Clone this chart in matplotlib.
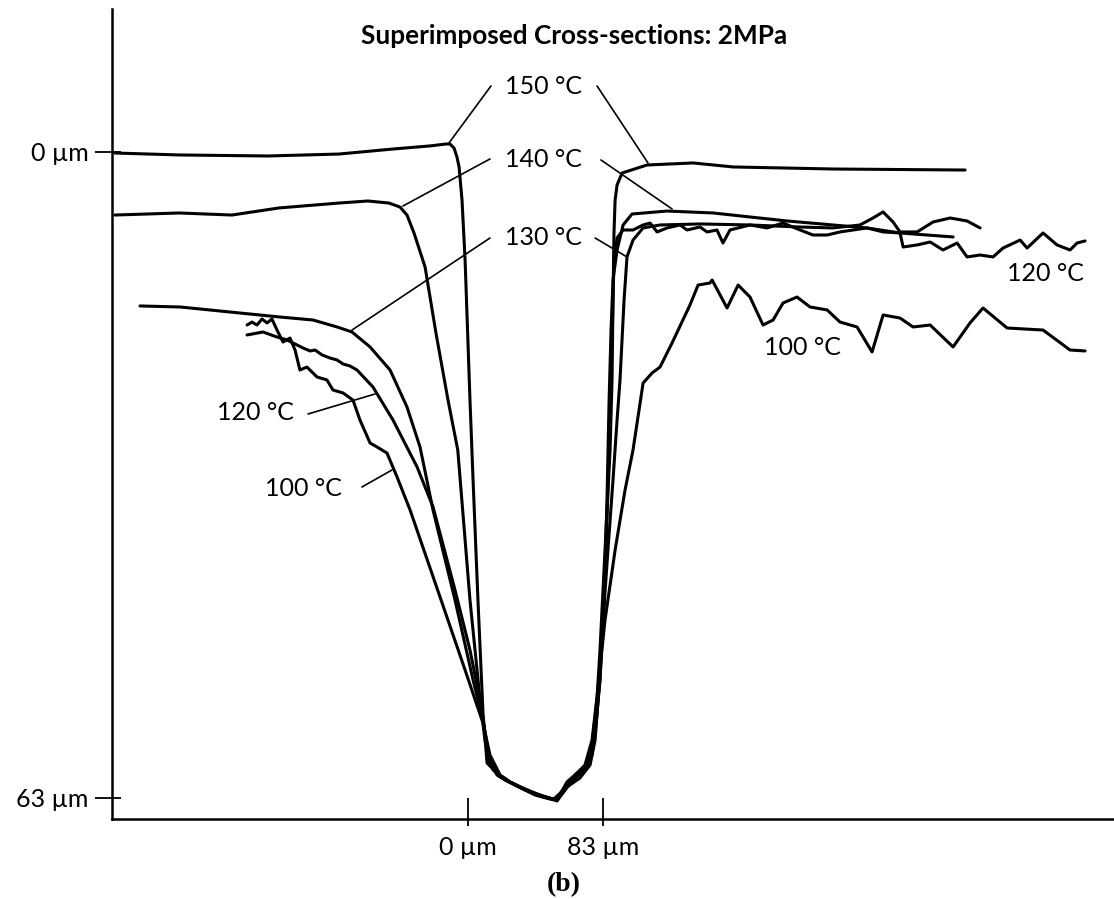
import matplotlib
matplotlib.use('Agg')
import matplotlib.pyplot as plt
from matplotlib.ticker import FixedLocator

plt.rcParams['font.family'] = ['Lato', 'DejaVu Sans']

# ---- data: lateral position (µm) and depth below the 150 °C surface (µm) ----
x150 = [-217.0, -177.6, -122.9, -79.3, -46.1, -23.4, -13.5, -11.1, -8.6, -6.8, -5.5, -3.7,
        -1.8, 1.2, 3.1, 6.1, 9.2, 11.7, 17.8, 25.8, 36.3, 46.1, 54.7, 60.8, 67.0, 73.1,
        76.2, 79.3, 81.1, 84.2, 87.3, 88.5, 89.1, 89.7, 90.4, 91.6, 94.7, 110.0, 138.3,
        162.9, 224.3, 305.5]
y150 = [0.1, 0.29, 0.39, 0.2, -0.29, -0.59, -0.78, -0.78, -0.39, 0.49, 1.46, 4.68,
        10.54, 24.2, 32.0, 43.71, 54.73, 59.61, 60.59, 61.46, 62.24, 62.93, 63.2, 61.46,
        60.59, 60.0, 58.05, 53.17, 48.6, 38.83, 29.07, 22.24, 14.44, 7.9, 4.68, 3.22,
        2.05, 1.27, 1.07, 1.46, 1.66, 1.76]

x140 = [-217.0, -177.6, -145.1, -116.2, -79.3, -61.5, -48.6, -41.8, -37.5, -33.2,
        -26.4, -19.7, -12.3, -6.3, 1.2, 7.4, 10.4, 13.5, 19.7, 32.0,
        47.3, 53.5, 60.8, 68.8, 75.0, 78.1, 81.1, 83.6, 85.4, 86.7,
        87.9, 89.1, 91.6, 95.3, 100.8, 122.3, 150.6, 173.3, 196.1, 224.3,
        245.2, 265.5, 298.1]
y140 = [6.15, 5.95, 6.15, 5.46, 4.98, 4.78, 4.98, 5.37, 6.15, 7.9,
        11.22, 17.66, 24.2, 29.07, 43.71, 53.46, 57.37, 59.8, 60.98, 61.95,
        62.93, 63.2, 61.76, 60.49, 59.32, 56.88, 51.51, 43.71, 33.95, 24.2,
        17.37, 12.49, 9.56, 7.12, 6.05, 5.76, 5.95, 6.34, 6.73, 7.12,
        7.41, 7.9, 8.29]

x130 = [-201.6, -177.0, -146.3, -115.6, -95.3, -80.5, -71.3, -60.2, -47.9, -37.5,
        -29.5, -21.5, -8.0, 3.1, 9.2, 12.3, 17.8, 28.9, 41.2, 52.2,
        60.8, 68.8, 75.0, 78.1, 79.9, 83.0, 86.0, 89.1, 91.6, 93.4,
        95.9, 97.7, 101.4, 107.6, 118.0, 142.6, 173.3, 204.1, 224.3, 240.9,
        248.9, 255.1, 261.2, 265.5, 276.0, 285.8, 296.3, 306.7, 314.7]
y130 = [15.02, 15.12, 15.61, 16.10, 16.39, 17.07, 17.56, 19.02, 21.27, 24.88,
        28.78, 34.93, 43.71, 51.51, 55.41, 58.83, 60.78, 61.76, 62.73, 63.2,
        61.95, 61.07, 59.8, 57.37, 53.46, 45.66, 38.83, 32.0, 26.15, 22.24,
        14.44, 10.24, 8.59, 7.41, 7.12, 7.02, 7.12, 7.32, 7.41, 7.12,
        6.44, 5.85, 6.83, 7.80, 7.80, 6.83, 6.44, 6.73, 7.41]

x120 = [-135.8, -126.0, -117.4, -111.2, -101.4, -97.1, -94.0, -89.7, -84.8, -80.5,
        -76.8, -72.5, -68.2, -58.4, -46.1, -31.3, -21.5, -8.0, 1.2, 7.4,
        11.7, 15.4, 22.7, 35.0, 47.3, 54.7, 59.6, 65.8, 71.9, 76.2,
        78.7, 81.1, 83.0, 84.8, 86.7, 87.9, 89.1, 89.7, 91.6, 95.3,
        101.4, 107.6, 111.9, 116.2, 122.3, 130.3, 134.6, 142.6, 146.9, 153.0,
        156.7, 161.0, 173.3, 183.8, 193.6, 204.1, 212.0, 220.7, 228.6, 245.2,
        255.1, 265.5, 267.4, 276.0, 284.0, 291.9, 300.6, 306.7, 314.7, 322.7,
        328.8, 339.3, 343.6, 353.4, 362.0, 370.0, 374.3, 379.2]
y120 = [17.85, 17.56, 18.05, 18.34, 19.12, 19.41, 19.32, 19.8, 20.10, 20.29,
        20.68, 20.88, 21.27, 22.93, 26.15, 30.73, 34.63, 42.73, 48.59, 53.46,
        57.85, 60.29, 61.27, 62.24, 62.93, 63.2, 62.24, 61.07, 60.29, 58.83,
        55.41, 51.51, 45.66, 38.83, 29.07, 22.24, 14.44, 10.54, 8.39, 7.61,
        7.61, 7.12, 6.93, 7.80, 7.41, 7.12, 7.61, 7.32, 7.80, 7.61,
        8.88, 7.61, 7.12, 7.41, 6.93, 7.61, 8.10, 8.10, 7.80, 7.41,
        7.80, 7.90, 9.27, 9.07, 8.78, 9.56, 8.88, 10.24, 10.05, 10.24,
        9.37, 8.59, 9.37, 7.90, 9.07, 9.56, 8.88, 8.68]

x100 = [-135.8, -132.8, -129.7, -126.6, -123.5, -120.5, -117.4, -113.7, -109.4, -106.3,
        -103.3, -99.0, -92.8, -86.7, -83.0, -76.8, -70.7, -66.4, -60.2, -55.9,
        -49.8, -43.6, -35.6, -17.2, -1.8, 9.2, 13.5, 19.7, 25.8, 38.1,
        50.4, 54.7, 59.6, 65.8, 71.9, 76.2, 79.3, 84.2, 90.4, 96.5,
        101.4, 107.6, 113.1, 118.0, 125.4, 136.4, 141.4, 148.7, 150.0, 159.2,
        166.0, 173.3, 181.3, 187.5, 193.6, 202.2, 210.2, 220.7, 228.6, 239.1,
        248.3, 255.1, 265.5, 273.5, 284.0, 298.1, 308.5, 316.5, 331.3, 353.4,
        370.0, 379.2]
y100 = [16.88, 16.59, 16.88, 16.29, 16.68, 16.29, 17.37, 18.54, 18.15, 19.32,
        21.27, 20.98, 21.95, 22.24, 23.22, 23.51, 24.20, 26.15, 28.39, 28.78,
        29.37, 31.71, 34.93, 43.41, 50.54, 55.71, 58.83, 60.78, 61.46, 62.44,
        63.02, 63.32, 62.24, 60.78, 59.8, 57.37, 53.17, 45.66, 38.83, 32.98,
        29.07, 22.54, 21.56, 20.98, 18.63, 14.93, 12.98, 12.78, 12.49, 15.22,
        12.98, 14.15, 16.88, 16.39, 14.73, 14.15, 15.12, 15.41, 16.59, 17.07,
        19.51, 15.90, 16.20, 17.07, 16.88, 19.02, 16.68, 15.22, 17.17, 17.37,
        19.32, 19.41]

series = [(x150, y150), (x140, y140), (x130, y130), (x120, y120), (x100, y100)]

# axis ticks
xtick_vals = [0, 83]
xtick_labels = ['0 \u00b5m', '83 \u00b5m']
ytick_vals = [0, 63]
ytick_labels = ['0 \u00b5m', '63 \u00b5m']

# temperature labels (text, x, y) and leader lines ((x_text_end, y), (x_curve, y))
label_texts = ['150 \u00b0C', '140 \u00b0C', '130 \u00b0C', '120 \u00b0C', '100 \u00b0C', '120 \u00b0C', '100 \u00b0C']
label_x = [46.1, 46.1, 46.1, -130.9, -101.4, 354.6, 205.3]
label_y = [-6.34, 0.78, 8.39, 25.46, 32.78, 11.9, 19.12]
leader_start = [(14.1, -6.44), (79.3, -6.44), (13.5, 0.68), (81.7, 0.78),
                (13.5, 8.39), (78.1, 8.39), (-98.3, 25.56), (-65.2, 32.68)]
leader_end = [(-11.7, -0.88), (110.6, 1.07), (-40.0, 5.27), (125.4, 5.56),
              (-71.3, 17.37), (97.7, 10.24), (-57.2, 23.61), (-46.7, 31.02)]

title = 'Superimposed Cross-sections: 2MPa'
panel = '(b)'

# ---- figure ----
fig = plt.figure(figsize=(11.14, 8.99), dpi=100)
ax = fig.add_axes([0.10054, 0.08899, 0.89946, 0.90101])

for xs, ys in series:
    ax.plot(xs, ys, color='black', lw=2.2, solid_joinstyle='round', solid_capstyle='round')

for (x0, y0), (x1, y1) in zip(leader_start, leader_end):
    ax.annotate('', xy=(x1, y1), xytext=(x0, y0),
                arrowprops=dict(arrowstyle='-', color='black', lw=1.2, shrinkA=0, shrinkB=0))

for t, lx, ly in zip(label_texts, label_x, label_y):
    ax.text(lx, ly, t, ha='center', va='center', fontsize=18, color='black')

ax.set_xlim(-218.8, 397.0)
ax.set_ylim(65.07, -13.95)

for s in ['top', 'right']:
    ax.spines[s].set_visible(False)
for s in ['left', 'bottom']:
    ax.spines[s].set_linewidth(1.8)

ax.set_xticks(xtick_vals)
ax.set_xticklabels(xtick_labels)
ax.set_yticks(ytick_vals)
ax.set_yticklabels(ytick_labels)
ax.xaxis.set_minor_locator(FixedLocator(xtick_vals))
ax.yaxis.set_minor_locator(FixedLocator(ytick_vals))
ax.xaxis.remove_overlapping_locs = False
ax.yaxis.remove_overlapping_locs = False

ax.tick_params(axis='x', which='major', direction='in', length=15, width=1.3, pad=12, labelsize=18)
ax.tick_params(axis='x', which='minor', direction='out', length=5, width=1.3)
ax.tick_params(axis='y', which='major', direction='out', length=12, width=1.3, pad=5, labelsize=18)
ax.tick_params(axis='y', which='minor', direction='in', length=6.5, width=1.3)

fig.text(0.515, 0.960, title, ha='center', va='center', fontsize=18.8, fontweight='bold')
fig.text(0.506, 0.0156, panel, ha='center', va='center', fontsize=20, fontweight='bold',
         family=['Liberation Serif', 'DejaVu Serif'])

fig.savefig('out.png', dpi=100)
